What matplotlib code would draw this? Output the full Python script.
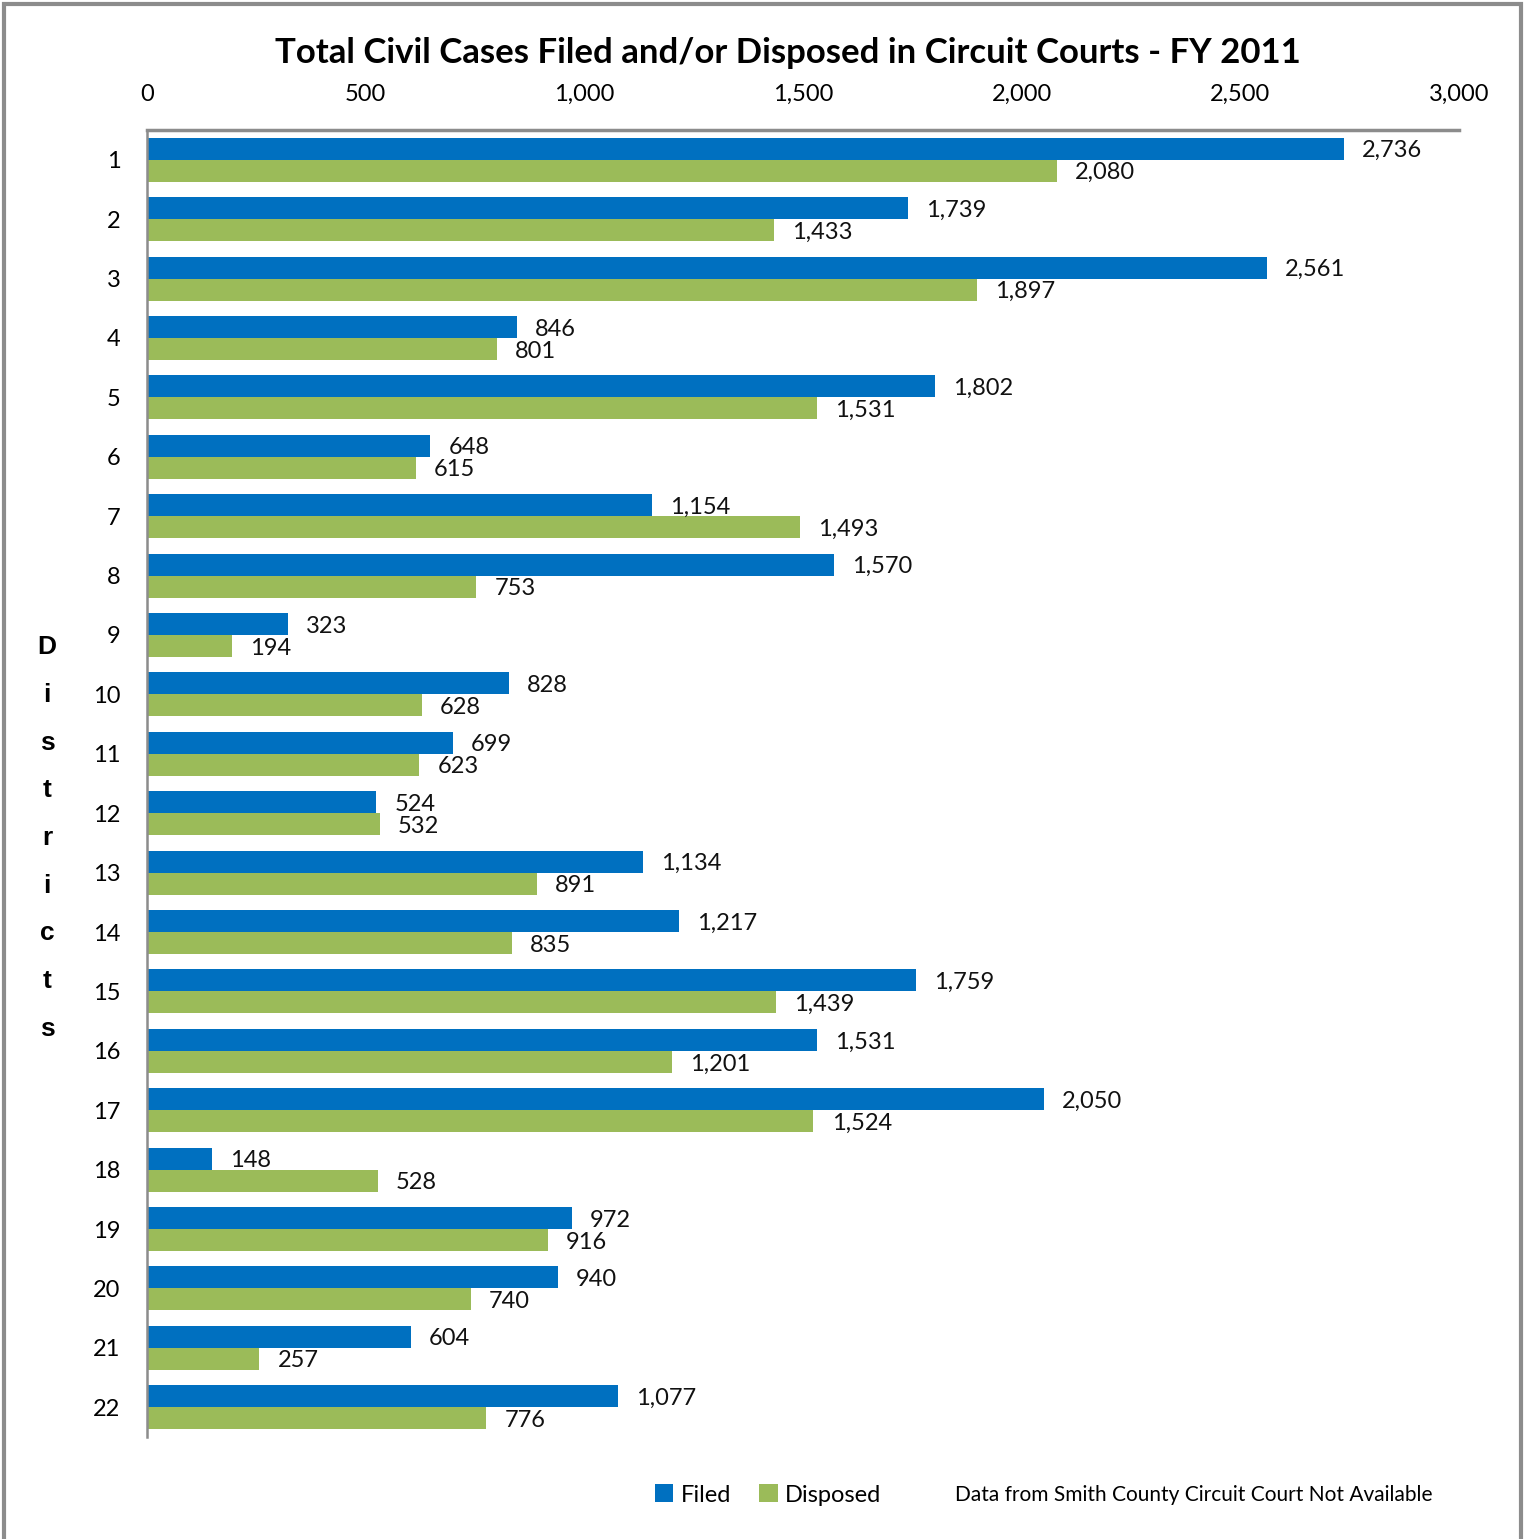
import matplotlib
matplotlib.use("Agg")
import matplotlib.pyplot as plt
from matplotlib.patches import Rectangle

districts = [str(i) for i in range(1, 23)]
filed = [2736, 1739, 2561, 846, 1802, 648, 1154, 1570, 323, 828, 699, 524,
         1134, 1217, 1759, 1531, 2050, 148, 972, 940, 604, 1077]
disposed = [2080, 1433, 1897, 801, 1531, 615, 1493, 753, 194, 628, 623, 532,
            891, 835, 1439, 1201, 1524, 528, 916, 740, 257, 776]
xticks = [0, 500, 1000, 1500, 2000, 2500, 3000]
xtick_labels = ["0", "500", "1,000", "1,500", "2,000", "2,500", "3,000"]

BLUE = "#0070C0"
GREEN = "#9BBB59"
FONT = "Lato"

W, H = 1525, 1539
fig = plt.figure(figsize=(W / 100, H / 100), dpi=100)
fig.patch.set_facecolor("white")

# outer frame
fig.patches.append(Rectangle((4 / W, -0.01), (1521 - 4) / W, 1 - 4 / H + 0.01,
                             transform=fig.transFigure, fill=False,
                             edgecolor="#8c8c8c", linewidth=3))

ax = fig.add_axes([147 / W, 1 - 1437 / H, (1459 - 147) / W, (1437 - 130) / H])

n = len(districts)
ys = list(range(n))
bh = 0.37
yb = [y - bh / 2 for y in ys]
yg = [y + bh / 2 for y in ys]
ax.barh(yb, filed, height=bh, color=BLUE, label="Filed")
ax.barh(yg, disposed, height=bh, color=GREEN, label="Disposed")

for y, v in zip(yb, filed):
    ax.annotate(f"{v:,}", xy=(v, y), xytext=(13, -1.5), textcoords="offset points",
                va="center", ha="left", fontsize=17, family=FONT, color="#111111")
for y, v in zip(yg, disposed):
    ax.annotate(f"{v:,}", xy=(v, y), xytext=(13, -1.5), textcoords="offset points",
                va="center", ha="left", fontsize=17, family=FONT, color="#111111")

ax.set_xlim(0, 3000)
ax.set_ylim(n - 0.5, -0.5)
ax.xaxis.tick_top()
ax.set_xticks(xticks)
ax.set_xticklabels(xtick_labels, family=FONT, fontsize=17)
ax.set_yticks(ys)
ax.set_yticklabels(districts, family=FONT, fontsize=17)
ax.tick_params(axis="x", length=0, pad=18)
ax.tick_params(axis="y", length=0, pad=19)

for s in ["right", "bottom"]:
    ax.spines[s].set_visible(False)
ax.spines["top"].set_color("#8c8c8c")
ax.spines["top"].set_linewidth(2.5)
ax.spines["left"].set_color("#8c8c8c")
ax.spines["left"].set_linewidth(1.8)

fig.text(788 / W, 1 - 53 / H,
         "Total Civil Cases Filed and/or Disposed in Circuit Courts - FY 2011",
         ha="center", va="center", fontsize=25, fontweight="bold", family=FONT)

fig.text(47 / W, 1 - 838 / H, "\n".join("Districts"), ha="center", va="center",
         fontsize=19, fontweight="bold", family="Liberation Sans", linespacing=2.25)

leg = fig.legend(loc="center", bbox_to_anchor=(768 / W, 1 - 1495 / H), ncol=2,
                 frameon=False, prop={"family": FONT, "size": 17},
                 handlelength=0.8, handleheight=0.8, handletextpad=0.3,
                 columnspacing=1.2)

fig.text(955 / W, 1 - 1495 / H, "Data from Smith County Circuit Court Not Available",
         ha="left", va="center", fontsize=15, family=FONT)

fig.savefig("out.png", dpi=100, facecolor="white")
